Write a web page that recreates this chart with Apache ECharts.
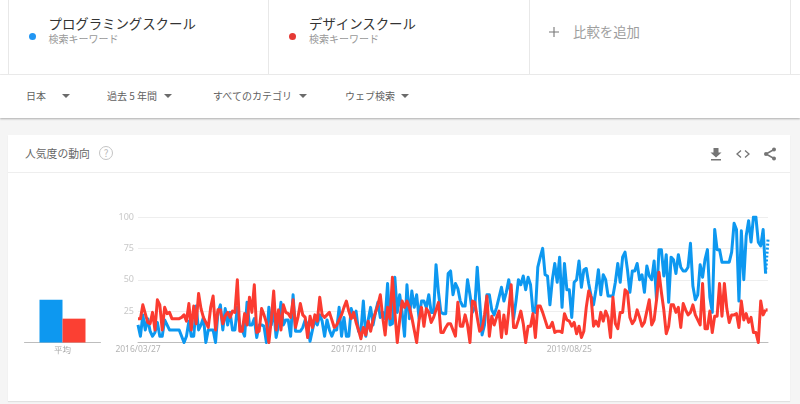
<!DOCTYPE html>
<html>
<head>
<meta charset="utf-8">
<script src="https://cdn.jsdelivr.net/npm/echarts@6/dist/echarts.min.js"></script>
<style>
  html, body { margin: 0; padding: 0; width: 800px; height: 404px; overflow: hidden; background: #f5f5f5;
    font-family: "Noto Sans CJK JP", sans-serif; }
  .abs { position: absolute; white-space: nowrap; line-height: 1; }
  .box { position: absolute; }
  #chart { position: absolute; left: 0; top: 0; width: 800px; height: 404px; }
  .filter { font-size: 10px; color: #5f5f5f; }
  .tri { position: absolute; width: 0; height: 0; border-left: 4px solid transparent; border-right: 4px solid transparent; border-top: 4px solid #6b6b6b; }
</style>
</head>
<body>
<!-- top strip -->
<div class="box" style="left:0;top:0;width:800px;height:74px;background:#fff;border-bottom:1px solid #eee"></div>
<div class="box" style="left:8px;top:0;width:1px;height:74px;background:#e8e8e8"></div>
<div class="box" style="left:268px;top:0;width:1px;height:74px;background:#e8e8e8"></div>
<div class="box" style="left:529px;top:0;width:1px;height:74px;background:#e8e8e8"></div>
<div class="box" style="left:790px;top:0;width:1px;height:74px;background:#e8e8e8"></div>

<div class="box" style="left:29px;top:33px;width:7px;height:7px;border-radius:50%;background:#2196f3"></div>
<div class="abs" style="left:48.500px;top:17px;font-size:13.4px;color:#333">プログラミングスクール</div>
<div class="abs" style="left:48.500px;top:34px;font-size:10px;color:#999">検索キーワード</div>

<div class="box" style="left:289px;top:33px;width:7px;height:7px;border-radius:50%;background:#e53935"></div>
<div class="abs" style="left:309px;top:17px;font-size:13.4px;color:#333">デザインスクール</div>
<div class="abs" style="left:309px;top:34px;font-size:10px;color:#999">検索キーワード</div>

<svg class="box" style="left:549px;top:27px" width="10" height="10"><path d="M5 0V10M0 5H10" stroke="#777" stroke-width="1.1"/></svg>
<div class="abs" style="left:573px;top:25px;font-size:13.4px;color:#9e9e9e">比較を追加</div>

<!-- filter bar -->
<div class="box" style="left:0;top:75px;width:800px;height:43px;background:#fff;box-shadow:0 1px 2px rgba(0,0,0,.3)"></div>
<div class="abs filter" style="left:26px;top:91px">日本</div>
<div class="tri" style="left:62px;top:94px"></div>
<div class="abs filter" style="left:107px;top:91px">過去 5 年間</div>
<div class="tri" style="left:164px;top:94px"></div>
<div class="abs filter" style="left:213px;top:91px">すべてのカテゴリ</div>
<div class="tri" style="left:299px;top:94px"></div>
<div class="abs filter" style="left:345px;top:91px">ウェブ検索</div>
<div class="tri" style="left:401px;top:94px"></div>

<!-- card -->
<div class="box" style="left:8px;top:135px;width:782px;height:266px;background:#fff;box-shadow:0 1px 1px rgba(0,0,0,.08)"></div>
<div class="box" style="left:8px;top:172px;width:782px;height:1px;background:#eee"></div>
<div class="abs" style="left:25px;top:148px;font-size:10.8px;color:#666">人気度の動向</div>
<div class="abs" style="left:99px;top:146px;width:12px;height:12px;border:1px solid #c4c4c4;border-radius:50%;text-align:center;font-size:10px;line-height:12px;color:#bbb">?</div>

<svg class="box" style="left:710px;top:147px" width="68" height="15">
  <path d="M2.500 1h5v4.500h3L5 10.500 -0.500 5.500h3zM0 12h10v1.400H0z" transform="translate(1 0)" fill="#757575"/>
  <path d="M31 3.500L27 7l4 3.500M35 3.500L39 7l-4 3.500" fill="none" stroke="#757575" stroke-width="1.300"/>
  <path d="M64 2.500L56 7l8 4.500" fill="none" stroke="#757575" stroke-width="1.500"/>
  <circle cx="64" cy="2.500" r="2" fill="#757575"/><circle cx="56" cy="7" r="2" fill="#757575"/><circle cx="64" cy="11.500" r="2" fill="#757575"/>
</svg>

<div id="chart"></div>

<script>
const tickLabels = ['2016/03/27', '2017/12/10', '2019/08/25'];
const yTicks = [0, 25, 50, 75, 100];
const seriesNames = ['プログラミングスクール', 'デザインスクール'];

const averages = [34, 19];

const blue = [
  14, 5, 22, 10, 19, 9, 5, 8, 16, 5, 5, 18, 14, 10, 10, 10, 10, 10, 5, 0,
  5, 17, 5, 5, 29, 10, 14, 20, 0, 10, 10, 10, 0, 24, 30, 10, 27, 14, 24, 10,
  10, 28, 14, 10, 5, 32, 14, 14, 19, 4, 14, 14, 13, 0, 28, 14, 27, 4, 14, 32,
  14, 18, 18, 5, 38, 9, 9, 9, 12, 18, 14, 1, 10, 18, 14, 22, 17, 5, 18, 10,
  5, 10, 10, 28, 5, 20, 5, 5, 27, 20, 25, 9, 9, 33, 5, 18, 28, 14, 24, 32,
  20, 24, 19, 47, 14, 15, 52, 24, 38, 24, 5, 46, 19, 41, 28, 38, 19, 33, 33, 28,
  38, 24, 24, 62, 40, 24, 23, 23, 55, 57, 38, 47, 43, 33, 29, 29, 50, 38, 24, 28,
  60, 33, 6, 14, 38, 38, 26, 22, 28, 36, 44, 33, 40, 50, 37, 19, 33, 50, 46, 53,
  42, 52, 46, 25, 24, 60, 68, 75, 54, 53, 30, 50, 63, 48, 68, 28, 63, 42, 42, 20,
  48, 50, 65, 44, 58, 59, 47, 37, 30, 42, 58, 38, 54, 50, 37, 37, 37, 48, 63, 48,
  68, 72, 58, 40, 57, 57, 63, 50, 54, 40, 61, 53, 50, 65, 34, 74, 74, 53, 70, 32,
  68, 66, 55, 70, 60, 57, 57, 60, 79, 45, 34, 38, 62, 52, 66, 74, 36, 24, 90, 74,
  74, 64, 64, 64, 64, 72, 95, 90, 33, 89, 50, 85, 97, 80, 100, 100, 80, 77, 90, 55,
  82
];

const red = [
  19, 19, 30, 23, 16, 15, 24, 10, 34, 30, 10, 28, 23, 24, 19, 19, 19, 19, 20, 22,
  17, 31, 10, 29, 15, 39, 27, 20, 16, 12, 28, 37, 10, 26, 26, 15, 21, 24, 20, 25,
  24, 50, 9, 9, 23, 14, 36, 24, 46, 8, 9, 27, 22, 16, 0, 18, 41, 10, 26, 10,
  30, 24, 23, 20, 34, 12, 20, 31, 22, 20, 4, 21, 12, 22, 17, 36, 22, 20, 22, 24,
  18, 12, 14, 18, 22, 28, 33, 25, 19, 24, 16, 10, 3, 12, 6, 17, 9, 18, 24, 30,
  38, 20, 6, 28, 19, 52, 24, 0, 18, 33, 28, 33, 28, 20, 10, 0, 18, 28, 13, 27,
  24, 16, 20, 26, 32, 8, 8, 12, 15, 15, 10, 5, 32, 13, 13, 22, 14, 0, 33, 32,
  20, 9, 11, 22, 37, 5, 21, 14, 20, 25, 4, 22, 7, 25, 46, 12, 12, 18, 25, 15,
  0, 13, 13, 23, 4, 29, 29, 24, 18, 12, 12, 16, 8, 9, 9, 8, 23, 18, 17, 13,
  16, 7, 13, 4, 9, 28, 41, 36, 13, 17, 13, 24, 17, 25, 20, 4, 36, 15, 11, 24,
  24, 42, 40, 20, 15, 18, 26, 20, 13, 16, 25, 34, 14, 18, 34, 56, 40, 26, 7, 13,
  30, 30, 24, 28, 12, 31, 26, 22, 24, 30, 22, 18, 14, 47, 11, 11, 25, 8, 21, 21,
  47, 21, 47, 27, 16, 22, 22, 23, 12, 33, 18, 23, 16, 20, 8, 8, 0, 33, 22, 26,
  26
];

const weeks = blue.map((v, i) => {
  const d = new Date(Date.UTC(2016, 2, 27 + i * 7));
  return d.getUTCFullYear() + '/' + String(d.getUTCMonth() + 1).padStart(2, '0') + '/' + String(d.getUTCDate()).padStart(2, '0');
});

// the last week is still partial, so it is dotted like on the site
const last = blue.length - 1;
const solidPart = arr => arr.map((v, i) => i < last ? v : null);
const tailPart = arr => arr.map((v, i) => i >= last - 1 ? v : null);

const lineStyle = (color, type) => ({
  type: 'line', xAxisIndex: 1, yAxisIndex: 1, showSymbol: false, symbol: 'none', smooth: false,
  animation: false, lineStyle: { color: color, width: 3, type: type || 'solid', join: 'round' }, itemStyle: { color: color }
});

const chart = echarts.init(document.getElementById('chart'), null, { renderer: 'canvas' });
chart.setOption({
  animation: false,
  backgroundColor: 'transparent',
  textStyle: { fontFamily: '"Noto Sans", "Noto Sans CJK JP", sans-serif' },
  grid: [
    { left: 24.5, width: 76, top: 217, height: 125.5 },
    { left: 138, width: 630, top: 217, height: 125.5 }
  ],
  xAxis: [
    {
      gridIndex: 0, type: 'category', data: ['平均'],
      axisLine: { lineStyle: { color: '#bdbdbd', width: 1 } }, axisTick: { show: false },
      axisLabel: { color: '#a8a8a8', fontSize: 8.5, margin: 3, fontFamily: '"Noto Sans CJK JP", sans-serif' }
    },
    {
      gridIndex: 1, type: 'category', data: weeks, boundaryGap: false,
      axisLine: { lineStyle: { color: '#bdbdbd', width: 1 } }, axisTick: { show: false },
      axisLabel: {
        color: '#b4b4b4', fontSize: 8.5, margin: 3, showMinLabel: true,
        interval: (i, value) => tickLabels.includes(value)
      }
    }
  ],
  yAxis: [
    { gridIndex: 0, type: 'value', min: 0, max: 100, show: false },
    {
      gridIndex: 1, type: 'value', min: 0, max: 100, interval: yTicks[1] - yTicks[0],
      axisLine: { show: false }, axisTick: { show: false },
      axisLabel: { color: '#c8c8c8', fontSize: 9, margin: 4, formatter: v => v === 0 ? '' : v },
      splitLine: { lineStyle: { color: '#eeeeee', width: 1 } }
    }
  ],
  series: [
    {
      type: 'bar', xAxisIndex: 0, yAxisIndex: 0, name: seriesNames[0], data: [averages[0]],
      barWidth: 23, barGap: 0, itemStyle: { color: '#0d98f0' }
    },
    {
      type: 'bar', xAxisIndex: 0, yAxisIndex: 0, name: seriesNames[1], data: [averages[1]],
      barWidth: 23, barGap: 0, itemStyle: { color: '#fb4033' }
    },
    Object.assign(lineStyle('#0d98f0'), { name: seriesNames[0], data: solidPart(blue) }),
    Object.assign(lineStyle('#0d98f0', [2, 2]), { data: tailPart(blue) }),
    Object.assign(lineStyle('#fb3b30'), { name: seriesNames[1], data: solidPart(red) }),
    Object.assign(lineStyle('#fb3b30', [2, 2]), { data: tailPart(red) })
  ]
});
</script>
</body>
</html>
